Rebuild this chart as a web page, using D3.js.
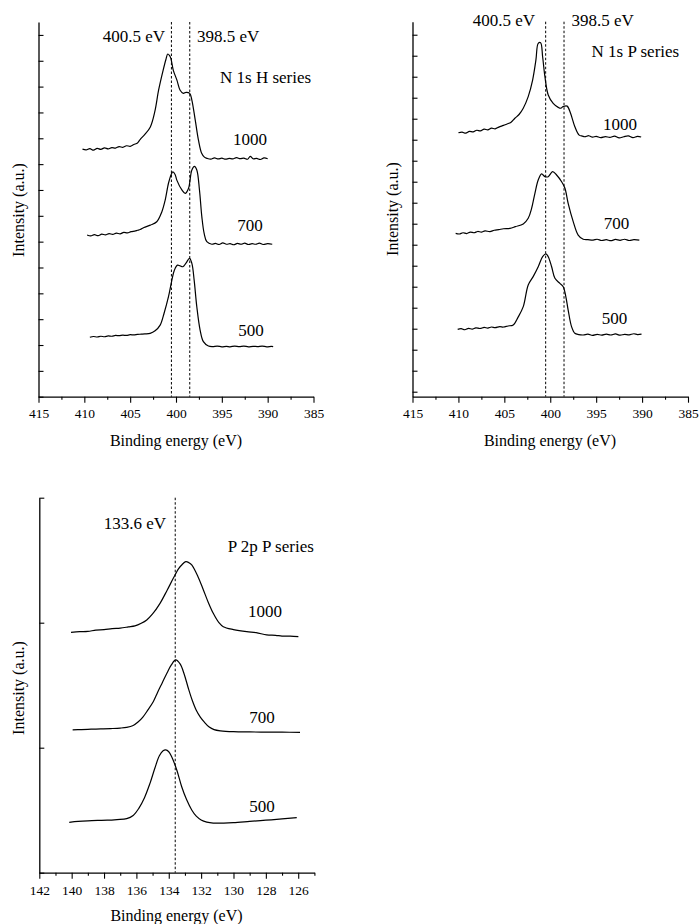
<!DOCTYPE html>
<html>
<head>
<meta charset="utf-8">
<script src="https://cdn.jsdelivr.net/npm/d3@7"></script>
<style>
html,body{margin:0;padding:0;background:#fff;}
svg{display:block;}
svg text{font-family:"Liberation Serif","Times New Roman",Times,serif !important;fill:#000;}
</style>
</head>
<body>
<svg id="chart" width="699" height="924" font-family="Liberation Serif"></svg>
<script>
// ---------------- DATA ----------------
// N 1s, H series  [binding energy (eV), intensity (a.u.)]
const nH1000 = [[410.2,9.58],[409.8,9.55],[409.4,9.60],[409.0,9.54],[408.6,9.61],[408.2,9.57],[407.8,9.63],[407.4,9.59],[407.0,9.64],[406.6,9.62],[406.2,9.68],[405.8,9.65],[405.4,9.71],[405.0,9.69],[404.6,9.76],[404.2,9.82],[403.9,9.96],[403.4,10.15],[402.8,10.44],[402.3,11.05],[401.9,11.86],[401.4,12.64],[401.1,13.05],[400.9,13.26],[400.7,13.20],[400.56,13.09],[400.3,12.64],[399.9,12.25],[399.55,11.86],[399.2,11.74],[398.9,11.78],[398.5,11.74],[398.27,11.48],[397.9,10.70],[397.55,9.93],[397.2,9.42],[396.9,9.27],[396.6,9.22],[396.2,9.19],[395.8,9.24],[395.4,9.20],[395.0,9.23],[394.6,9.19],[394.2,9.22],[393.8,9.20],[393.4,9.25],[393.0,9.21],[392.6,9.23],[392.2,9.19],[391.9,9.30],[391.6,9.21],[391.2,9.22],[390.8,9.18],[390.4,9.24],[390.0,9.21]];
const nH700 = [[409.7,6.26],[409.3,6.22],[408.9,6.27],[408.5,6.23],[408.1,6.29],[407.7,6.26],[407.3,6.31],[406.9,6.28],[406.5,6.33],[406.1,6.30],[405.7,6.36],[405.3,6.34],[404.9,6.39],[404.5,6.41],[404.2,6.44],[403.9,6.47],[403.5,6.55],[402.8,6.64],[402.1,6.77],[401.54,7.16],[401.18,7.61],[400.82,8.26],[400.5,8.62],[400.34,8.70],[400.1,8.60],[399.91,8.38],[399.36,8.00],[399.0,7.87],[398.64,8.06],[398.27,8.77],[397.99,8.91],[397.73,8.77],[397.44,8.00],[397.18,6.96],[396.93,6.32],[396.64,6.00],[396.09,5.90],[395.7,5.93],[395.3,5.89],[394.9,5.95],[394.5,5.90],[394.1,5.92],[393.7,5.88],[393.3,5.93],[392.9,5.90],[392.5,5.94],[392.1,5.89],[391.7,5.92],[391.3,5.90],[390.9,5.94],[390.5,5.89],[390.0,5.92],[389.5,5.90]];
const nH500 = [[409.4,2.30],[409.0,2.33],[408.6,2.31],[408.2,2.34],[407.8,2.32],[407.4,2.35],[407.0,2.34],[406.6,2.37],[406.2,2.36],[405.8,2.38],[405.4,2.37],[405.0,2.40],[404.6,2.39],[404.2,2.41],[403.8,2.42],[403.4,2.43],[402.82,2.45],[402.28,2.55],[401.73,2.77],[401.3,3.23],[400.82,3.87],[400.45,4.51],[400.17,4.90],[399.84,5.09],[399.55,5.06],[399.25,5.03],[398.89,5.18],[398.53,5.35],[398.27,5.16],[398.02,4.51],[397.73,3.48],[397.37,2.58],[397.01,2.13],[396.46,1.96],[396.0,1.94],[395.5,1.96],[395.0,1.93],[394.5,1.95],[394.1,1.93],[393.6,1.96],[393.1,1.94],[392.6,1.96],[392.1,1.93],[391.6,1.95],[391.1,1.94],[390.6,1.96],[390.1,1.93],[389.6,1.95],[389.4,1.94]];

// N 1s, P series
const nP1000 = [[410.0,12.33],[409.6,12.36],[409.2,12.31],[408.8,12.40],[408.4,12.37],[408.0,12.45],[407.6,12.42],[407.2,12.50],[406.8,12.47],[406.4,12.55],[406.0,12.52],[405.6,12.60],[405.1,12.68],[404.7,12.75],[404.3,12.82],[403.85,13.02],[403.4,13.20],[402.94,13.50],[402.4,14.05],[401.92,14.84],[401.56,15.80],[401.31,16.59],[401.05,16.62],[400.83,15.95],[400.58,15.00],[400.22,14.13],[399.68,13.73],[399.13,13.54],[398.85,13.50],[398.59,13.58],[398.16,13.60],[397.79,13.26],[397.32,12.62],[396.85,12.22],[396.5,12.17],[396.23,12.14],[395.8,12.19],[395.4,12.12],[395.0,12.16],[394.5,12.10],[394.0,12.15],[393.5,12.11],[393.0,12.17],[392.5,12.09],[392.0,12.14],[391.5,12.18],[391.0,12.10],[390.5,12.16],[390.1,12.13]];
const nP700 = [[410.3,7.54],[409.9,7.51],[409.5,7.57],[409.1,7.53],[408.7,7.60],[408.3,7.57],[407.9,7.63],[407.5,7.60],[407.1,7.66],[406.57,7.62],[406.1,7.69],[405.6,7.72],[405.1,7.76],[404.39,7.78],[403.8,7.86],[402.94,7.99],[402.4,8.26],[402.03,8.73],[401.67,9.45],[401.31,10.08],[400.94,10.37],[400.58,10.24],[400.22,10.24],[399.74,10.48],[399.31,10.32],[398.76,10.00],[398.40,9.69],[398.05,8.97],[397.50,8.10],[396.96,7.46],[396.41,7.26],[395.9,7.24],[395.33,7.22],[394.9,7.26],[394.4,7.20],[393.9,7.24],[393.4,7.19],[392.9,7.25],[392.4,7.21],[391.9,7.26],[391.4,7.20],[390.9,7.24],[390.3,7.22]];
const nP500 = [[410.08,2.97],[409.7,3.00],[409.3,2.95],[408.9,3.02],[408.5,2.98],[408.1,3.04],[407.65,3.01],[407.2,3.06],[406.8,3.03],[406.4,3.08],[406.0,3.05],[405.5,3.10],[405.1,3.08],[404.6,3.13],[404.03,3.18],[403.5,3.55],[402.94,4.05],[402.4,5.08],[401.86,5.48],[401.31,5.95],[400.83,6.43],[400.47,6.56],[400.22,6.43],[399.85,5.95],[399.49,5.40],[398.95,5.16],[398.59,5.00],[398.30,4.52],[398.05,3.89],[397.68,3.10],[397.32,2.78],[396.9,2.72],[396.41,2.70],[395.9,2.74],[395.4,2.68],[394.9,2.73],[394.4,2.69],[393.9,2.74],[393.4,2.70],[392.9,2.75],[392.4,2.69],[391.9,2.73],[391.4,2.71],[390.9,2.76],[390.5,2.72],[390.06,2.74]];

// P 2p, P series
const pP1000 = [[140.04,1.923],[139.5,1.928],[139.0,1.930],[138.5,1.941],[138.0,1.944],[137.5,1.953],[137.0,1.957],[136.5,1.966],[136.09,1.974],[135.7,1.995],[135.36,2.022],[135.0,2.070],[134.54,2.155],[134.1,2.260],[133.72,2.355],[133.4,2.430],[133.20,2.462],[132.95,2.488],[132.75,2.480],[132.58,2.462],[132.2,2.370],[131.86,2.262],[131.55,2.160],[131.25,2.075],[130.9,2.000],[130.63,1.968],[130.0,1.945],[129.18,1.928],[128.6,1.921],[127.95,1.902],[127.4,1.899],[127.0,1.893],[126.5,1.893],[125.99,1.888]];
const pP700 = [[139.94,1.142],[139.4,1.145],[138.8,1.148],[138.2,1.150],[137.6,1.153],[137.0,1.157],[136.6,1.163],[136.2,1.178],[135.9,1.205],[135.6,1.245],[135.3,1.300],[134.95,1.370],[134.7,1.440],[134.4,1.520],[134.1,1.600],[133.85,1.660],[133.57,1.702],[133.3,1.670],[133.05,1.590],[132.8,1.480],[132.55,1.380],[132.3,1.300],[132.05,1.245],[131.8,1.205],[131.5,1.165],[131.2,1.145],[130.8,1.135],[130.0,1.128],[129.0,1.126],[128.0,1.125],[127.0,1.124],[125.89,1.123]];
const pP500 = [[140.15,0.403],[139.6,0.410],[139.0,0.415],[138.4,0.418],[137.8,0.420],[137.2,0.425],[136.6,0.432],[136.2,0.458],[135.85,0.515],[135.5,0.600],[135.16,0.715],[134.85,0.840],[134.58,0.935],[134.35,0.975],[134.19,0.982],[134.0,0.968],[133.82,0.928],[133.5,0.820],[133.20,0.688],[132.9,0.585],[132.58,0.502],[132.3,0.452],[132.0,0.422],[131.65,0.405],[131.25,0.397],[130.6,0.397],[130.01,0.400],[129.0,0.410],[128.0,0.420],[127.0,0.430],[126.09,0.440]];

// Tick labels
const nTickLabels = [415,410,405,400,395,390,385];
const pTickLabels = [142,140,138,136,134,132,130,128,126];
// Reference energies (dashed lines) and annotation texts
const nRefLines = [400.5,398.5];
const pRefLines = [133.6];
const seriesNames = ["1000","700","500"];
const panelTitles = ["N 1s H series","N 1s P series","P 2p P series"];
const xTitle = "Binding energy (eV)";
const yTitle = "Intensity (a.u.)";

// ---------------- DRAW ----------------
const svg = d3.select("#chart");
const FONT = '"Liberation Serif","Times New Roman",Times,serif';

function drawPanel(p){
  const g = svg.append("g");
  const x = d3.scaleLinear().domain(p.xDomain).range(p.xRange);
  const y = d3.scaleLinear().domain(p.yDomain).range(p.yRange);

  // minor x ticks
  g.append("g").attr("transform",`translate(0,${p.yRange[0]})`)
    .call(d3.axisBottom(x).tickValues(p.minorTicks).tickSize(3).tickSizeOuter(0).tickFormat(""))
    .call(s=>s.select(".domain").remove())
    .call(s=>s.selectAll("line").attr("stroke","#000").attr("stroke-width",1.1));
  // major x ticks + labels
  const xa = g.append("g").attr("transform",`translate(0,${p.yRange[0]})`)
    .call(d3.axisBottom(x).tickValues(p.majorTicks).tickSize(6).tickSizeOuter(0).tickFormat(d3.format("d")));
  xa.attr("font-family",FONT).attr("font-size",13.5);
  xa.select(".domain").attr("stroke","#000").attr("stroke-width",1.3);
  xa.selectAll("line").attr("stroke","#000").attr("stroke-width",1.1);
  xa.selectAll("text").attr("y",p.labelOffset).attr("dy",0)
    .attr("font-family",FONT).style("font-family",FONT).style("font-size","13.5px").attr("fill","#000");

  // y axis (inward ticks, no labels)
  const ya = g.append("g").attr("transform",`translate(${p.xRange[0]},0)`)
    .call(d3.axisLeft(y).tickValues(p.yTicks).tickSize(-5).tickSizeOuter(0).tickFormat(""));
  ya.select(".domain").attr("stroke","#000").attr("stroke-width",1.3);
  ya.selectAll("line").attr("stroke","#000").attr("stroke-width",1.1);

  // dashed reference lines
  g.selectAll(".ref").data(p.refs).enter().append("line")
    .attr("x1",d=>x(d)).attr("x2",d=>x(d))
    .attr("y1",p.yRange[1]).attr("y2",p.yRange[0])
    .attr("stroke","#000").attr("stroke-width",1).attr("stroke-dasharray","2.5,2");

  // spectra
  const line = d3.line().x(d=>x(d[0])).y(d=>y(d[1])).curve(d3.curveCatmullRom.alpha(0.5));
  g.selectAll(".spec").data(p.series).enter().append("path")
    .attr("d",d=>line(d)).attr("fill","none").attr("stroke","#000").attr("stroke-width",1.2);

  // annotations
  p.texts.forEach(t=>{
    g.append("text").attr("x",t.x).attr("y",t.y).attr("text-anchor",t.anchor||"start")
      .attr("font-family",FONT).style("font-family",FONT)
      .style("font-size",(t.size||17)+"px").text(t.text);
  });
  // axis titles
  g.append("text").attr("x",p.xTitlePos[0]).attr("y",p.xTitlePos[1]).attr("text-anchor","middle")
    .attr("font-family",FONT).style("font-family",FONT).style("font-size","16px").text(xTitle);
  g.append("text").attr("transform",`translate(${p.yTitlePos[0]},${p.yTitlePos[1]}) rotate(-90)`)
    .attr("text-anchor","middle").attr("font-family",FONT).style("font-family",FONT)
    .style("font-size","16px").text(yTitle);
}

const nMinor = d3.range(412.5,385,-5);

drawPanel({
  xDomain:[415,385], xRange:[38.5,313.5],
  yDomain:[0,14.5], yRange:[396.7,22],
  majorTicks:nTickLabels, minorTicks:nMinor, labelOffset:21.5,
  yTicks:d3.range(0,15),
  refs:nRefLines, series:[nH1000,nH700,nH500],
  texts:[
    {text:nRefLines[0].toFixed(1)+" eV",x:165,y:42,anchor:"end"},
    {text:nRefLines[1].toFixed(1)+" eV",x:197,y:42},
    {text:panelTitles[0],x:220,y:83},
    {text:seriesNames[0],x:250,y:145,anchor:"middle"},
    {text:seriesNames[1],x:250,y:231,anchor:"middle"},
    {text:seriesNames[2],x:251,y:335.5,anchor:"middle"}
  ],
  xTitlePos:[176,446], yTitlePos:[24,210]
});

drawPanel({
  xDomain:[415,385], xRange:[412.5,688],
  yDomain:[-0.238,17.62], yRange:[396.7,21.7],
  majorTicks:nTickLabels, minorTicks:nMinor, labelOffset:21.5,
  yTicks:d3.range(0,18),
  refs:nRefLines, series:[nP1000,nP700,nP500],
  texts:[
    {text:nRefLines[0].toFixed(1)+" eV",x:535,y:26,anchor:"end"},
    {text:nRefLines[1].toFixed(1)+" eV",x:571.5,y:26},
    {text:panelTitles[1],x:591.5,y:56.7},
    {text:seriesNames[0],x:620,y:130,anchor:"middle"},
    {text:seriesNames[1],x:616.5,y:229.3,anchor:"middle"},
    {text:seriesNames[2],x:614.5,y:324.3,anchor:"middle"}
  ],
  xTitlePos:[550,446], yTitlePos:[398,209]
});

drawPanel({
  xDomain:[142,125], xRange:[39.3,314.4],
  yDomain:[0,3], yRange:[872.7,497.7],
  majorTicks:pTickLabels, minorTicks:d3.range(141,124,-2), labelOffset:22.3,
  yTicks:[0,1,2,3],
  refs:pRefLines, series:[pP1000,pP700,pP500],
  texts:[
    {text:pRefLines[0].toFixed(1)+" eV",x:166,y:529,anchor:"end"},
    {text:panelTitles[2],x:227.7,y:551.7},
    {text:seriesNames[0],x:265,y:617.3,anchor:"middle"},
    {text:seriesNames[1],x:262,y:723.3,anchor:"middle"},
    {text:seriesNames[2],x:262,y:812.3,anchor:"middle"}
  ],
  xTitlePos:[176.5,921], yTitlePos:[24,688]
});
</script>
</body>
</html>
